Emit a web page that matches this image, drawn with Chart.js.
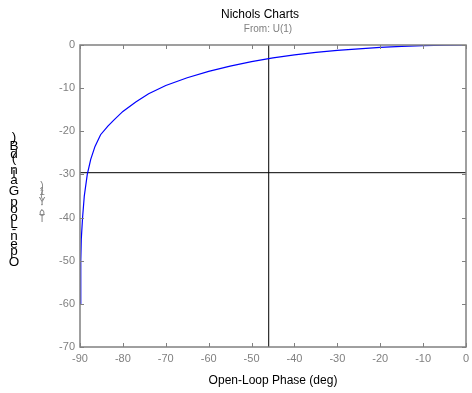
<!DOCTYPE html>
<html>
<head>
<meta charset="utf-8">
<script src="https://cdn.jsdelivr.net/npm/chart.js@4/dist/chart.umd.min.js"></script>
<style>
  html, body { margin: 0; padding: 0; background: #fff; }
  #wrap { width: 472px; height: 393px; }
</style>
</head>
<body>
<div id="wrap"><canvas id="nichols" width="472" height="393"></canvas></div>
<script>
// ----- Data -----
const phaseDeg = [-89.94, -89.82, -89.7, -89.4, -89.0, -88.3, -87.5, -86.5, -85.2, -83.5, -82, -80,
  -77, -74, -70, -65, -60, -55, -50, -45, -40, -35, -30, -25, -20, -15, -10, -5, 0];
const gainDb = [-60, -50, -45, -40, -35, -30, -26.5, -23.5, -20.8, -18.8, -17.3, -15.4,
  -13.2, -11.3, -9.4, -7.6, -6.1, -4.9, -3.85, -3.0, -2.3, -1.7, -1.25, -0.9, -0.55, -0.3, -0.15, -0.04, 0];

const cursorPhase = -46;
const cursorGain = -29.6;

const xTicks = [-90, -80, -70, -60, -50, -40, -30, -20, -10, 0];
const yTicks = [-70, -60, -50, -40, -30, -20, -10, 0];

const titleText = "Nichols Charts";
const fromText = "From: U(1)";
const toText = "To: Y(1)";
const xTitle = "Open-Loop Phase (deg)";
const yTitle = "Open-Loop Gain (dB)";

const axisGray = "#808080";
const FONT = "'Liberation Sans', Arial, sans-serif";

// ----- Box, inward ticks and labels -----
const nicholsDecor = {
  id: "nicholsDecor",
  afterDraw(chart) {
    const ctx = chart.ctx;
    const a = chart.chartArea;
    const xs = chart.scales.x, ys = chart.scales.y;
    ctx.save();
    ctx.strokeStyle = axisGray;
    ctx.lineWidth = 1.5;
    ctx.strokeRect(a.left, a.top, a.right - a.left, a.bottom - a.top);

    ctx.lineWidth = 1;
    ctx.beginPath();
    xTicks.forEach(v => {
      const px = Math.round(xs.getPixelForValue(v)) + 0.5;
      ctx.moveTo(px, a.bottom); ctx.lineTo(px, a.bottom - 4);
      ctx.moveTo(px, a.top); ctx.lineTo(px, a.top + 4);
    });
    yTicks.forEach(v => {
      const py = Math.round(ys.getPixelForValue(v)) + 0.5;
      ctx.moveTo(a.left, py); ctx.lineTo(a.left + 4, py);
      ctx.moveTo(a.right, py); ctx.lineTo(a.right - 4, py);
    });
    ctx.stroke();

    // titles
    ctx.textAlign = "center";
    ctx.textBaseline = "middle";
    ctx.fillStyle = "#000";
    ctx.font = "12px " + FONT;
    ctx.fillText(titleText, 260, 15);
    ctx.fillStyle = axisGray;
    ctx.font = "10px " + FONT;
    ctx.fillText(fromText, 268, 29);
    ctx.fillStyle = "#000";
    ctx.font = "12px " + FONT;
    ctx.fillText(xTitle, (a.left + a.right) / 2, 381);

    // y labels: upright glyphs stacked bottom to top
    const stack = (txt, cx, bottom, font, color) => {
      ctx.font = font;
      ctx.fillStyle = color;
      ctx.textBaseline = "bottom";
      let y = bottom;
      for (const ch of txt) {
        ctx.fillText(ch, cx, y);
        y -= ctx.measureText(ch).width;
      }
    };
    stack(yTitle, 14, 269, "13.5px " + FONT, "#000");
    stack(toText, 42, 224, "10px " + FONT, axisGray);
    ctx.restore();
  }
};

const ctx = document.getElementById("nichols").getContext("2d");
new Chart(ctx, {
  type: "scatter",
  data: {
    datasets: [
      {
        data: phaseDeg.map((p, i) => ({ x: p, y: gainDb[i] })),
        showLine: true,
        borderColor: "#0000ff",
        borderWidth: 1.2,
        pointRadius: 0,
        tension: 0
      },
      {
        data: [{ x: cursorPhase, y: -70 }, { x: cursorPhase, y: 0 }],
        showLine: true,
        borderColor: "#000",
        borderWidth: 1,
        pointRadius: 0
      },
      {
        data: [{ x: -90, y: cursorGain }, { x: 0, y: cursorGain }],
        showLine: true,
        borderColor: "#000",
        borderWidth: 1,
        pointRadius: 0
      }
    ]
  },
  options: {
    responsive: false,
    animation: false,
    layout: { padding: { left: 0, right: 6, top: 45, bottom: 0 } },
    plugins: { legend: { display: false }, tooltip: { enabled: false } },
    scales: {
      x: {
        min: -90, max: 0,
        grid: { display: false, drawTicks: false },
        border: { display: false },
        afterBuildTicks: s => { s.ticks = xTicks.map(v => ({ value: v })); },
        afterFit: s => { s.height = 46; s.paddingLeft = 0; s.paddingRight = 0; },
        ticks: { color: axisGray, font: { size: 11, family: FONT }, padding: 5, maxRotation: 0 }
      },
      y: {
        min: -70, max: 0,
        grid: { display: false, drawTicks: false },
        border: { display: false },
        afterBuildTicks: s => { s.ticks = yTicks.map(v => ({ value: v })); },
        afterFit: s => { s.width = 80; s.paddingTop = 0; s.paddingBottom = 0; },
        ticks: { color: axisGray, font: { size: 11, family: FONT }, padding: 5 }
      }
    }
  },
  plugins: [nicholsDecor]
});
</script>
</body>
</html>
